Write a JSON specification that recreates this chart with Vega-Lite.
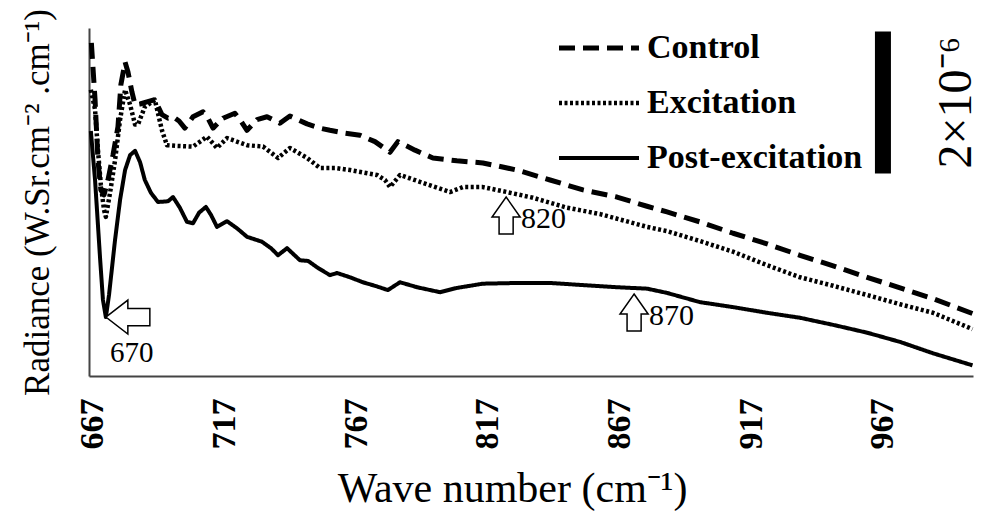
{
  "$schema": "https://vega.github.io/schema/vega-lite/v6.json",
  "width": 884,
  "height": 348,
  "autosize": {"type": "none"},
  "padding": {"left": 89, "top": 28, "right": 15, "bottom": 138},
  "background": "white",
  "config": {
    "view": {"stroke": null},
    "font": "Liberation Serif",
    "legend": {"orient": "none"}
  },
  "datasets": {
    "curves": [
      {"series": "Control", "wn": 666.4, "rad": 4.69},
      {"series": "Control", "wn": 667.8, "rad": 3.89},
      {"series": "Control", "wn": 668.9, "rad": 3.04},
      {"series": "Control", "wn": 670.0, "rad": 2.62},
      {"series": "Control", "wn": 671.2, "rad": 2.55},
      {"series": "Control", "wn": 672.7, "rad": 2.76},
      {"series": "Control", "wn": 674.6, "rad": 3.11},
      {"series": "Control", "wn": 676.5, "rad": 3.51},
      {"series": "Control", "wn": 677.6, "rad": 4.10},
      {"series": "Control", "wn": 679.2, "rad": 4.42},
      {"series": "Control", "wn": 680.3, "rad": 4.28},
      {"series": "Control", "wn": 681.8, "rad": 4.00},
      {"series": "Control", "wn": 683.0, "rad": 3.82},
      {"series": "Control", "wn": 684.9, "rad": 3.83},
      {"series": "Control", "wn": 687.5, "rad": 3.86},
      {"series": "Control", "wn": 690.5, "rad": 3.89},
      {"series": "Control", "wn": 693.2, "rad": 3.68},
      {"series": "Control", "wn": 695.5, "rad": 3.63},
      {"series": "Control", "wn": 697.4, "rad": 3.65},
      {"series": "Control", "wn": 699.7, "rad": 3.59},
      {"series": "Control", "wn": 701.9, "rad": 3.49},
      {"series": "Control", "wn": 705.0, "rad": 3.65},
      {"series": "Control", "wn": 708.8, "rad": 3.72},
      {"series": "Control", "wn": 710.7, "rad": 3.63},
      {"series": "Control", "wn": 712.6, "rad": 3.49},
      {"series": "Control", "wn": 716.4, "rad": 3.63},
      {"series": "Control", "wn": 720.9, "rad": 3.70},
      {"series": "Control", "wn": 723.2, "rad": 3.59},
      {"series": "Control", "wn": 725.5, "rad": 3.46},
      {"series": "Control", "wn": 729.3, "rad": 3.61},
      {"series": "Control", "wn": 733.1, "rad": 3.65},
      {"series": "Control", "wn": 738.0, "rad": 3.56},
      {"series": "Control", "wn": 741.8, "rad": 3.66},
      {"series": "Control", "wn": 748.3, "rad": 3.55},
      {"series": "Control", "wn": 753.2, "rad": 3.49},
      {"series": "Control", "wn": 757.0, "rad": 3.46},
      {"series": "Control", "wn": 762.7, "rad": 3.42},
      {"series": "Control", "wn": 768.4, "rad": 3.39},
      {"series": "Control", "wn": 774.1, "rad": 3.30},
      {"series": "Control", "wn": 778.7, "rad": 3.18},
      {"series": "Control", "wn": 779.8, "rad": 3.15},
      {"series": "Control", "wn": 782.8, "rad": 3.30},
      {"series": "Control", "wn": 789.3, "rad": 3.18},
      {"series": "Control", "wn": 796.1, "rad": 3.07},
      {"series": "Control", "wn": 805.2, "rad": 3.03},
      {"series": "Control", "wn": 815.1, "rad": 3.00},
      {"series": "Control", "wn": 828.0, "rad": 2.90},
      {"series": "Control", "wn": 840.6, "rad": 2.76},
      {"series": "Control", "wn": 853.1, "rad": 2.62},
      {"series": "Control", "wn": 866.0, "rad": 2.52},
      {"series": "Control", "wn": 877.4, "rad": 2.39},
      {"series": "Control", "wn": 885.0, "rad": 2.31},
      {"series": "Control", "wn": 897.5, "rad": 2.17},
      {"series": "Control", "wn": 910.1, "rad": 2.01},
      {"series": "Control", "wn": 923.0, "rad": 1.86},
      {"series": "Control", "wn": 935.5, "rad": 1.70},
      {"series": "Control", "wn": 948.1, "rad": 1.55},
      {"series": "Control", "wn": 961.0, "rad": 1.39},
      {"series": "Control", "wn": 973.5, "rad": 1.24},
      {"series": "Control", "wn": 986.0, "rad": 1.09},
      {"series": "Control", "wn": 1001.0, "rad": 0.88},

      {"series": "Excitation", "wn": 666.2, "rad": 4.03},
      {"series": "Excitation", "wn": 667.8, "rad": 3.75},
      {"series": "Excitation", "wn": 668.9, "rad": 3.18},
      {"series": "Excitation", "wn": 670.0, "rad": 2.69},
      {"series": "Excitation", "wn": 671.2, "rad": 2.34},
      {"series": "Excitation", "wn": 671.9, "rad": 2.24},
      {"series": "Excitation", "wn": 673.5, "rad": 2.58},
      {"series": "Excitation", "wn": 675.4, "rad": 3.04},
      {"series": "Excitation", "wn": 677.3, "rad": 3.61},
      {"series": "Excitation", "wn": 679.2, "rad": 4.03},
      {"series": "Excitation", "wn": 681.1, "rad": 3.82},
      {"series": "Excitation", "wn": 683.0, "rad": 3.54},
      {"series": "Excitation", "wn": 684.1, "rad": 3.54},
      {"series": "Excitation", "wn": 686.7, "rad": 3.79},
      {"series": "Excitation", "wn": 689.4, "rad": 3.86},
      {"series": "Excitation", "wn": 690.5, "rad": 3.89},
      {"series": "Excitation", "wn": 693.2, "rad": 3.46},
      {"series": "Excitation", "wn": 695.1, "rad": 3.25},
      {"series": "Excitation", "wn": 698.9, "rad": 3.24},
      {"series": "Excitation", "wn": 705.0, "rad": 3.23},
      {"series": "Excitation", "wn": 710.3, "rad": 3.37},
      {"series": "Excitation", "wn": 714.1, "rad": 3.21},
      {"series": "Excitation", "wn": 717.9, "rad": 3.35},
      {"series": "Excitation", "wn": 725.5, "rad": 3.25},
      {"series": "Excitation", "wn": 731.6, "rad": 3.23},
      {"series": "Excitation", "wn": 737.3, "rad": 3.07},
      {"series": "Excitation", "wn": 741.8, "rad": 3.21},
      {"series": "Excitation", "wn": 748.3, "rad": 3.07},
      {"series": "Excitation", "wn": 753.2, "rad": 2.93},
      {"series": "Excitation", "wn": 758.9, "rad": 2.93},
      {"series": "Excitation", "wn": 764.6, "rad": 2.90},
      {"series": "Excitation", "wn": 774.9, "rad": 2.83},
      {"series": "Excitation", "wn": 777.9, "rad": 2.76},
      {"series": "Excitation", "wn": 779.8, "rad": 2.66},
      {"series": "Excitation", "wn": 783.6, "rad": 2.83},
      {"series": "Excitation", "wn": 792.3, "rad": 2.72},
      {"series": "Excitation", "wn": 802.6, "rad": 2.59},
      {"series": "Excitation", "wn": 807.5, "rad": 2.66},
      {"series": "Excitation", "wn": 815.1, "rad": 2.66},
      {"series": "Excitation", "wn": 824.2, "rad": 2.59},
      {"series": "Excitation", "wn": 834.1, "rad": 2.51},
      {"series": "Excitation", "wn": 847.0, "rad": 2.37},
      {"series": "Excitation", "wn": 859.6, "rad": 2.28},
      {"series": "Excitation", "wn": 877.4, "rad": 2.10},
      {"series": "Excitation", "wn": 885.0, "rad": 2.04},
      {"series": "Excitation", "wn": 897.5, "rad": 1.90},
      {"series": "Excitation", "wn": 910.1, "rad": 1.75},
      {"series": "Excitation", "wn": 923.0, "rad": 1.56},
      {"series": "Excitation", "wn": 935.5, "rad": 1.39},
      {"series": "Excitation", "wn": 948.1, "rad": 1.27},
      {"series": "Excitation", "wn": 961.0, "rad": 1.14},
      {"series": "Excitation", "wn": 973.5, "rad": 1.01},
      {"series": "Excitation", "wn": 986.0, "rad": 0.89},
      {"series": "Excitation", "wn": 1001.0, "rad": 0.66},

      {"series": "Post-excitation", "wn": 666.2, "rad": 3.45},
      {"series": "Post-excitation", "wn": 667.8, "rad": 2.76},
      {"series": "Post-excitation", "wn": 669.7, "rad": 1.66},
      {"series": "Post-excitation", "wn": 670.8, "rad": 1.07},
      {"series": "Post-excitation", "wn": 671.9, "rad": 0.83},
      {"series": "Post-excitation", "wn": 673.1, "rad": 1.14},
      {"series": "Post-excitation", "wn": 675.4, "rad": 1.92},
      {"series": "Post-excitation", "wn": 677.3, "rad": 2.48},
      {"series": "Post-excitation", "wn": 679.2, "rad": 2.90},
      {"series": "Post-excitation", "wn": 681.1, "rad": 3.11},
      {"series": "Post-excitation", "wn": 683.0, "rad": 3.17},
      {"series": "Post-excitation", "wn": 684.9, "rad": 3.01},
      {"series": "Post-excitation", "wn": 686.7, "rad": 2.76},
      {"series": "Post-excitation", "wn": 689.0, "rad": 2.58},
      {"series": "Post-excitation", "wn": 691.7, "rad": 2.45},
      {"series": "Post-excitation", "wn": 695.5, "rad": 2.46},
      {"series": "Post-excitation", "wn": 697.4, "rad": 2.52},
      {"series": "Post-excitation", "wn": 700.0, "rad": 2.37},
      {"series": "Post-excitation", "wn": 702.7, "rad": 2.17},
      {"series": "Post-excitation", "wn": 705.0, "rad": 2.15},
      {"series": "Post-excitation", "wn": 707.3, "rad": 2.30},
      {"series": "Post-excitation", "wn": 709.9, "rad": 2.38},
      {"series": "Post-excitation", "wn": 711.8, "rad": 2.27},
      {"series": "Post-excitation", "wn": 714.1, "rad": 2.10},
      {"series": "Post-excitation", "wn": 717.9, "rad": 2.18},
      {"series": "Post-excitation", "wn": 721.7, "rad": 2.08},
      {"series": "Post-excitation", "wn": 725.5, "rad": 1.96},
      {"series": "Post-excitation", "wn": 731.2, "rad": 1.89},
      {"series": "Post-excitation", "wn": 734.6, "rad": 1.80},
      {"series": "Post-excitation", "wn": 737.3, "rad": 1.70},
      {"series": "Post-excitation", "wn": 740.7, "rad": 1.80},
      {"series": "Post-excitation", "wn": 745.6, "rad": 1.63},
      {"series": "Post-excitation", "wn": 748.7, "rad": 1.62},
      {"series": "Post-excitation", "wn": 752.5, "rad": 1.52},
      {"series": "Post-excitation", "wn": 757.0, "rad": 1.42},
      {"series": "Post-excitation", "wn": 759.7, "rad": 1.45},
      {"series": "Post-excitation", "wn": 764.6, "rad": 1.39},
      {"series": "Post-excitation", "wn": 769.5, "rad": 1.32},
      {"series": "Post-excitation", "wn": 774.1, "rad": 1.27},
      {"series": "Post-excitation", "wn": 779.0, "rad": 1.21},
      {"series": "Post-excitation", "wn": 783.6, "rad": 1.32},
      {"series": "Post-excitation", "wn": 790.1, "rad": 1.25},
      {"series": "Post-excitation", "wn": 798.8, "rad": 1.18},
      {"series": "Post-excitation", "wn": 805.2, "rad": 1.24},
      {"series": "Post-excitation", "wn": 815.1, "rad": 1.30},
      {"series": "Post-excitation", "wn": 828.0, "rad": 1.31},
      {"series": "Post-excitation", "wn": 840.6, "rad": 1.31},
      {"series": "Post-excitation", "wn": 853.1, "rad": 1.28},
      {"series": "Post-excitation", "wn": 866.0, "rad": 1.25},
      {"series": "Post-excitation", "wn": 877.4, "rad": 1.23},
      {"series": "Post-excitation", "wn": 885.0, "rad": 1.17},
      {"series": "Post-excitation", "wn": 897.5, "rad": 1.04},
      {"series": "Post-excitation", "wn": 910.1, "rad": 0.97},
      {"series": "Post-excitation", "wn": 923.0, "rad": 0.89},
      {"series": "Post-excitation", "wn": 935.5, "rad": 0.82},
      {"series": "Post-excitation", "wn": 948.1, "rad": 0.72},
      {"series": "Post-excitation", "wn": 961.0, "rad": 0.61},
      {"series": "Post-excitation", "wn": 973.5, "rad": 0.48},
      {"series": "Post-excitation", "wn": 986.0, "rad": 0.32},
      {"series": "Post-excitation", "wn": 1001.0, "rad": 0.15}
    ],
    "scalebar": [
      {"wn": 967.0, "rad": 2.85, "rad2": 4.85, "label": "2×10⁻⁶", "labelwn": 1000.5, "labelrad": 3.85}
    ],
    "peaks": [
      {"label": "670", "wn": 671.9, "rad": 0.83, "dir": "left"},
      {"label": "820", "wn": 823.9, "rad": 2.52, "dir": "up"},
      {"label": "870", "wn": 872.5, "rad": 1.155, "dir": "up"}
    ]
  },
  "encoding": {
    "x": {
      "field": "wn",
      "type": "quantitative",
      "scale": {"domain": [665.5, 1001.2], "nice": false, "zero": false},
      "axis": {
        "title": "Wave number (cm⁻¹)",
        "values": [667, 717, 767, 817, 867, 917, 967],
        "grid": false,
        "ticks": false,
        "domainColor": "#444444",
        "domainWidth": 2,
        "labelAngle": 270,
        "labelFont": "Liberation Serif",
        "labelFontWeight": "bold",
        "labelFontSize": 34,
        "labelColor": "black",
        "labelPadding": 22,
        "titleFont": "Liberation Serif",
        "titleFontWeight": "normal",
        "titleFontSize": 42,
        "titleColor": "black",
        "titleX": 423,
        "titleY": 125,
        "titleAlign": "center",
        "titleBaseline": "alphabetic"
      }
    },
    "y": {
      "field": "rad",
      "type": "quantitative",
      "scale": {"domain": [0, 4.9], "nice": false, "zero": false},
      "axis": {
        "title": "Radiance (W.Sr.cm⁻² .cm⁻¹)",
        "grid": false,
        "ticks": false,
        "labels": false,
        "domainColor": "#444444",
        "domainWidth": 2,
        "titleFont": "Liberation Serif",
        "titleFontWeight": "normal",
        "titleFontSize": 35,
        "titleColor": "black",
        "titlePadding": 34
      }
    }
  },
  "layer": [
    {
      "data": {"name": "curves"},
      "mark": {"type": "line", "color": "black", "strokeJoin": "round", "strokeCap": "butt"},
      "encoding": {
        "detail": {"field": "series", "type": "nominal"},
        "strokeDash": {
          "field": "series",
          "type": "nominal",
          "scale": {
            "domain": ["Control", "Excitation", "Post-excitation"],
            "range": [[16, 8], [3, 2.5], [1, 0]]
          },
          "legend": {
            "title": null,
            "orient": "none",
            "legendX": 493,
            "legendY": 3,
            "padding": 0,
            "symbolType": "M-4,0H4",
            "symbolSize": 400,
            "symbolStrokeWidth": 5,
            "symbolStrokeColor": "black",
            "labelFont": "Liberation Serif",
            "labelFontWeight": "bold",
            "labelFontSize": 34,
            "labelColor": "black",
            "labelOffset": 31,
            "rowPadding": 21,
            "labelLimit": 400
          }
        },
        "strokeWidth": {
          "field": "series",
          "type": "nominal",
          "scale": {
            "domain": ["Control", "Excitation", "Post-excitation"],
            "range": [5, 4, 4.5]
          },
          "legend": null
        }
      }
    },
    {
      "data": {"name": "scalebar"},
      "mark": {"type": "rule", "color": "black", "strokeWidth": 16},
      "encoding": {
        "y2": {"field": "rad2"}
      }
    },
    {
      "data": {"name": "scalebar"},
      "mark": {"type": "text", "angle": 270, "align": "center", "baseline": "alphabetic", "font": "Liberation Serif", "fontSize": 48, "color": "black"},
      "encoding": {
        "x": {"field": "labelwn", "type": "quantitative"},
        "y": {"field": "labelrad", "type": "quantitative"},
        "text": {"field": "label"}
      }
    },
    {
      "data": {"name": "peaks"},
      "transform": [{"filter": "datum.dir === 'left'"}],
      "mark": {"type": "point", "shape": "M0,0L1,-0.77L1,-0.39L2,-0.39L2,0.39L1,0.39L1,0.77Z", "size": 1936, "filled": true, "fill": "white", "stroke": "black", "strokeWidth": 1.5, "opacity": 1}
    },
    {
      "data": {"name": "peaks"},
      "transform": [{"filter": "datum.dir === 'up'"}],
      "mark": {"type": "point", "shape": "M0,0L0.76,1.08L0.38,1.08L0.38,2L-0.38,2L-0.38,1.08L-0.76,1.08Z", "size": 1369, "filled": true, "fill": "white", "stroke": "black", "strokeWidth": 1.5, "opacity": 1}
    },
    {
      "data": {"name": "peaks"},
      "transform": [{"filter": "datum.dir === 'left'"}],
      "mark": {"type": "text", "align": "center", "baseline": "middle", "dx": 26, "dy": 36, "font": "Liberation Serif", "fontSize": 29, "color": "black"},
      "encoding": {"text": {"field": "label"}}
    },
    {
      "data": {"name": "peaks"},
      "transform": [{"filter": "datum.dir === 'up'"}],
      "mark": {"type": "text", "align": "left", "baseline": "middle", "dx": 15, "dy": 22, "font": "Liberation Serif", "fontSize": 30, "color": "black"},
      "encoding": {"text": {"field": "label"}}
    }
  ]
}
